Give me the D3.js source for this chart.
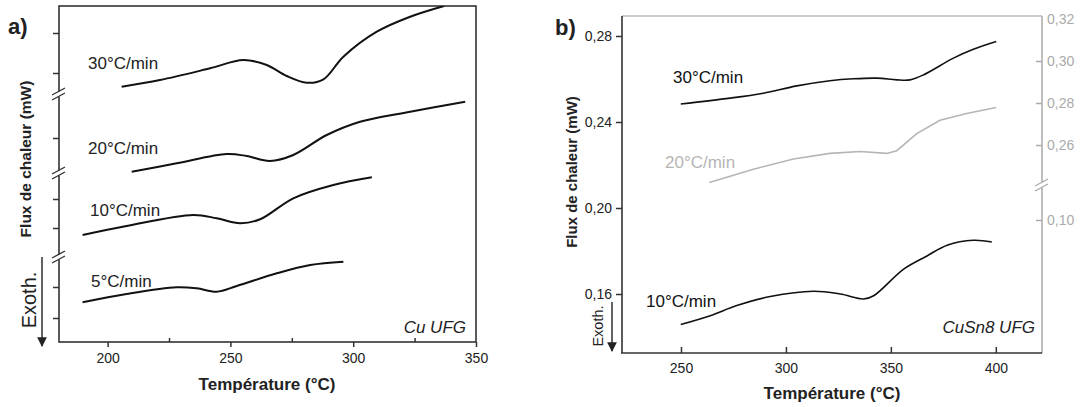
<!DOCTYPE html>
<html><head><meta charset="utf-8">
<script src="https://cdn.jsdelivr.net/npm/d3@7"></script>
<style>
body{margin:0;background:#fff}
svg{display:block}
text{font-family:"Liberation Sans",Arial,sans-serif;fill:#222}
</style>
</head><body>
<svg id="c" width="1083" height="407"></svg>
<script>
// ---------- Panel a : Cu UFG (arbitrary heat-flow units, curves offset) ----------
const cuT30  = [205.7,221.3,241.7,255.3,264.8,272.9,281.1,287.9,296.0,309.6,323.2,337.0];
const cuHF30 = [25.53,26.2,27.37,28.2,27.7,26.6,25.93,26.27,28.53,31.03,32.53,33.6];
const cuT20  = [209.8,228.1,248.5,256.6,266.1,275.6,289.2,302.8,323.2,345.6];
const cuHF20 = [17.03,17.87,18.8,18.6,18.1,18.7,20.7,22.03,23.03,24.03];
const cuT10  = [189.8,207.7,234.9,244.4,253.9,262.1,275.6,291.9,307.6];
const cuHF10 = [10.7,11.6,12.7,12.37,11.87,12.27,14.37,15.7,16.47];
const cuT5   = [189.8,207.7,228.1,236.3,244.4,252.6,268.9,282.5,296.0];
const cuHF5  = [3.97,4.8,5.47,5.37,5.03,5.6,6.87,7.7,8.03];
const cuRates = ["30°C/min","20°C/min","10°C/min","5°C/min"];
const cuXTicks = [200,250,300,350];
const cuXMinor = [225,275,325];
const cuYTicks = [30.9,26.9,20.4,14.3,11.4,5.5,2.4];
const cuYBreaks = [24.8,16.9,8.5];

// ---------- Panel b : CuSn8 UFG ----------
const snT30  = [249.9,273.4,289.2,305.2,321.0,332.1,343.3,352.8,359.1,365.5,379.8,389.3,400.2];
const snHF30 = [0.2484,0.2511,0.2534,0.2568,0.2592,0.2601,0.2604,0.2596,0.2596,0.2619,0.2697,0.2738,0.2774];
const snT20  = [263.5,284.5,303.6,321.0,335.3,348.0,352.8,362.3,373.4,386.1,400.2];
const snHF20 = [0.2421,0.2485,0.2533,0.2560,0.2569,0.2560,0.2573,0.2654,0.2718,0.2750,0.2779];
const snT10  = [249.9,263.9,276.6,292.5,313.1,325.9,337.0,341.8,356.1,367.2,376.8,389.3,398.1];
const snHF10 = [0.1458,0.1499,0.1546,0.1588,0.1613,0.1600,0.1577,0.1592,0.1716,0.1777,0.1827,0.1850,0.1842];
const snRates = ["30°C/min","20°C/min","10°C/min"];
const snXTicks = [250,300,350,400];
const snYTicks = [0.16,0.20,0.24,0.28];
const snYRightTicks = [0.26,0.28,0.30,0.32];
const snYRightLowTicks = [0.10];

const svg = d3.select("#c");
const fmtC = v => d3.format(".2f")(v).replace(".", ",");
const zip = (a,b) => a.map((t,i)=>[t,b[i]]);

// ================= Panel a =================
const xA = d3.scaleLinear().domain([180.2,350]).range([59,476]);
const yA = d3.scaleLinear().domain([0,33.6]).range([342,6]);
const gA = svg.append("g");

gA.append("defs").append("clipPath").attr("id","clipA")
  .append("rect").attr("x",59).attr("y",6).attr("width",417).attr("height",336);

gA.append("rect").attr("x",xA.range()[0]).attr("y",yA.range()[1])
  .attr("width",xA.range()[1]-xA.range()[0]).attr("height",yA.range()[0]-yA.range()[1])
  .attr("fill","none").attr("stroke","#333").attr("stroke-width",1.6);

const axA = gA.append("g").attr("transform",`translate(0,${yA.range()[0]})`)
  .call(d3.axisBottom(xA).tickValues(cuXTicks).tickSizeInner(5).tickSizeOuter(0).tickPadding(6));
axA.select(".domain").remove();
axA.selectAll("line").attr("stroke","#333").attr("stroke-width",1.5);
axA.selectAll("text").attr("font-size",14).style("font-family","Liberation Sans, Arial, sans-serif").attr("fill","#222");
const axAm = gA.append("g").attr("transform",`translate(0,${yA.range()[0]})`)
  .call(d3.axisBottom(xA).tickValues(cuXMinor).tickSizeInner(-4).tickSizeOuter(0).tickFormat(""));
axAm.select(".domain").remove();
axAm.selectAll("line").attr("stroke","#333").attr("stroke-width",1.5);

const ayA = gA.append("g").attr("transform",`translate(${xA.range()[0]},0)`)
  .call(d3.axisLeft(yA).tickValues(cuYTicks).tickSizeInner(6).tickSizeOuter(0).tickFormat(""));
ayA.select(".domain").remove();
ayA.selectAll("line").attr("stroke","#333").attr("stroke-width",1.5);

function drawBreak(g, x, y, col){
  g.append("rect").attr("x",x-4).attr("y",y-2.5).attr("width",8).attr("height",5).attr("fill","#fff");
  [-2.5,2.5].forEach(d=>{
    g.append("line").attr("x1",x-7).attr("y1",y+3.5+d).attr("x2",x+6).attr("y2",y-3.5+d)
      .attr("stroke",col).attr("stroke-width",1.4);
  });
}
cuYBreaks.forEach(v=>drawBreak(gA, xA.range()[0], yA(v), "#333"));

const lineA = d3.line().x(d=>xA(d[0])).y(d=>yA(d[1])).curve(d3.curveCatmullRom.alpha(0.5));
const cuSeries = [zip(cuT30,cuHF30), zip(cuT20,cuHF20), zip(cuT10,cuHF10), zip(cuT5,cuHF5)];
gA.append("g").attr("clip-path","url(#clipA)").selectAll("path").data(cuSeries).join("path")
  .attr("d",lineA).attr("fill","none").attr("stroke","#111").attr("stroke-width",2);

const cuLabelPos = [[88,69],[88,154],[90,216],[91,287]];
gA.selectAll("text.rate").data(cuRates).join("text").attr("class","rate")
  .attr("x",(d,i)=>cuLabelPos[i][0]).attr("y",(d,i)=>cuLabelPos[i][1])
  .attr("font-size",17).text(d=>d);

gA.append("text").attr("x",466).attr("y",333).attr("text-anchor","end")
  .attr("font-size",17).attr("font-style","italic").text("Cu UFG");
gA.append("text").attr("x",8).attr("y",34).attr("font-size",22).attr("font-weight","bold").text("a)");
gA.append("text").attr("x",267).attr("y",390).attr("text-anchor","middle")
  .attr("font-size",17).attr("font-weight","bold").text("Température (°C)");
gA.append("text").attr("transform","translate(31,159) rotate(-90)").attr("text-anchor","middle")
  .attr("font-size",15.5).attr("font-weight","bold").text("Flux de chaleur (mW)");
gA.append("text").attr("transform","translate(36,300) rotate(-90)").attr("text-anchor","middle")
  .attr("font-size",20).text("Exoth.");

const defs = svg.append("defs");
defs.append("marker").attr("id","arr").attr("viewBox","0 0 10 10").attr("refX",9).attr("refY",5)
  .attr("markerWidth",7).attr("markerHeight",7).attr("orient","auto")
  .append("path").attr("d","M0,0 L10,5 L0,10 z").attr("fill","#222");
gA.append("line").attr("x1",42).attr("y1",257).attr("x2",42).attr("y2",346)
  .attr("stroke","#222").attr("stroke-width",1.4).attr("marker-end","url(#arr)");

// ================= Panel b =================
const xB = d3.scaleLinear().domain([221.9,422]).range([622,1042]);
const yB = d3.scaleLinear().domain([0.16,0.28]).range([294,36]);
const yBR = d3.scaleLinear().domain([0.26,0.32]).range([145,19]);
const yBR2 = d3.scaleLinear().domain([0.10,0.12]).range([220,178]);
const gB = svg.append("g");
const frameTop = 16, frameBot = 353;

gB.append("line").attr("x1",622).attr("y1",frameTop).attr("x2",1042).attr("y2",frameTop).attr("stroke","#bbb").attr("stroke-width",1.5);
gB.append("line").attr("x1",1042).attr("y1",frameTop).attr("x2",1042).attr("y2",frameBot).attr("stroke","#aaa").attr("stroke-width",1.5);
gB.append("line").attr("x1",622).attr("y1",frameTop).attr("x2",622).attr("y2",frameBot).attr("stroke","#333").attr("stroke-width",1.6);
gB.append("line").attr("x1",621).attr("y1",frameBot).attr("x2",1042).attr("y2",frameBot).attr("stroke","#333").attr("stroke-width",1.6);

const axB = gB.append("g").attr("transform",`translate(0,${frameBot})`)
  .call(d3.axisBottom(xB).tickValues(snXTicks).tickSizeInner(-6).tickSizeOuter(0).tickPadding(10));
axB.select(".domain").remove();
axB.selectAll("line").attr("stroke","#333").attr("stroke-width",1.5);
axB.selectAll("text").attr("font-size",14).attr("fill","#222");

const ayB = gB.append("g").attr("transform","translate(622,0)")
  .call(d3.axisLeft(yB).tickValues(snYTicks).tickSizeInner(6).tickSizeOuter(0).tickPadding(4).tickFormat(fmtC));
ayB.select(".domain").remove();
ayB.selectAll("line").attr("stroke","#333").attr("stroke-width",1.5);
ayB.selectAll("text").attr("font-size",14).attr("fill","#222");

const ayR = gB.append("g").attr("transform","translate(1042,0)")
  .call(d3.axisRight(yBR).tickValues(snYRightTicks).tickSizeInner(-6).tickSizeOuter(0).tickPadding(5).tickFormat(fmtC));
ayR.select(".domain").remove();
ayR.selectAll("line").attr("stroke","#aaa").attr("stroke-width",1.5);
ayR.selectAll(".tick").filter(d=>d===0.32).select("line").remove();
ayR.selectAll("text").attr("font-size",14).style("fill","#aaa");
const ayR2 = gB.append("g").attr("transform","translate(1042,0)")
  .call(d3.axisRight(yBR2).tickValues(snYRightLowTicks).tickSizeInner(-6).tickSizeOuter(0).tickPadding(5).tickFormat(fmtC));
ayR2.select(".domain").remove();
ayR2.selectAll("line").attr("stroke","#aaa").attr("stroke-width",1.5);
ayR2.selectAll("text").attr("font-size",14).style("fill","#aaa");
drawBreak(gB, 1042, 185, "#aaa");

const lineB = d3.line().x(d=>xB(d[0])).y(d=>yB(d[1])).curve(d3.curveCatmullRom.alpha(0.5));
const lineBR = d3.line().x(d=>xB(d[0])).y(d=>yBR(d[1])).curve(d3.curveLinear);
gB.append("path").datum(zip(snT30,snHF30)).attr("d",lineB).attr("fill","none").attr("stroke","#111").attr("stroke-width",1.6);
gB.append("path").datum(zip(snT20,snHF20)).attr("d",lineBR).attr("fill","none").attr("stroke","#b5b5b5").attr("stroke-width",1.6);
gB.append("path").datum(zip(snT10,snHF10)).attr("d",lineB).attr("fill","none").attr("stroke","#111").attr("stroke-width",1.6);

const snLabelPos = [[673,83,"#111"],[665,168,"#b5b5b5"],[646,307,"#111"]];
gB.selectAll("text.rate").data(snRates).join("text").attr("class","rate")
  .attr("x",(d,i)=>snLabelPos[i][0]).attr("y",(d,i)=>snLabelPos[i][1])
  .attr("font-size",17).style("fill",(d,i)=>snLabelPos[i][2]).text(d=>d);

gB.append("text").attr("x",1035).attr("y",333).attr("text-anchor","end")
  .attr("font-size",17).attr("font-style","italic").text("CuSn8 UFG");
gB.append("text").attr("x",555).attr("y",35).attr("font-size",22).attr("font-weight","bold").text("b)");
gB.append("text").attr("x",832).attr("y",399).attr("text-anchor","middle")
  .attr("font-size",17).attr("font-weight","bold").text("Température (°C)");
gB.append("text").attr("transform","translate(577,172) rotate(-90)").attr("text-anchor","middle")
  .attr("font-size",15).attr("font-weight","bold").text("Flux de chaleur (mW)");
gB.append("text").attr("transform","translate(603,326) rotate(-90)").attr("text-anchor","middle")
  .attr("font-size",14.5).text("Exoth.");
gB.append("line").attr("x1",612).attr("y1",302).attr("x2",612).attr("y2",351)
  .attr("stroke","#222").attr("stroke-width",1.4).attr("marker-end","url(#arr)");
</script>
</body></html>
